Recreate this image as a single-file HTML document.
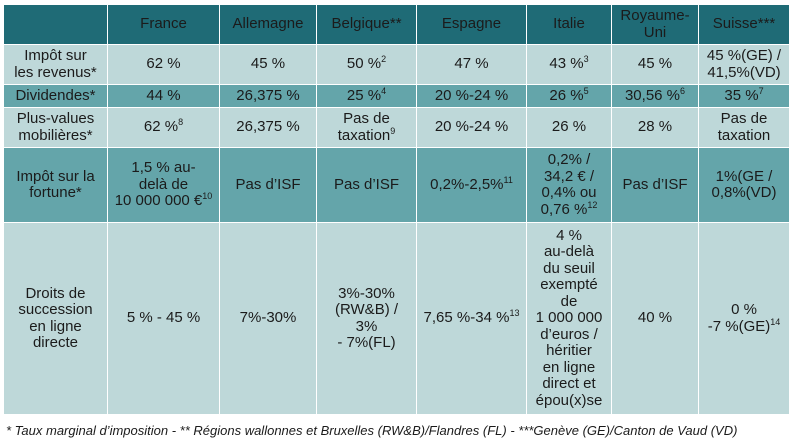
<!DOCTYPE html>
<html><head><meta charset="utf-8"><style>
body{margin:0;width:793px;height:444px;background:#fff;position:relative;overflow:hidden;font-family:"Liberation Sans",sans-serif;color:#1b1b1b}
.c{position:absolute;display:flex;align-items:center;justify-content:center;text-align:center;font-size:15px;line-height:16.5px;box-sizing:border-box;color:#1b1b1b}
.c span{display:block}
.h{background:#1f6b76}
.l{background:#bed8d9}
.m{background:#64a5aa}
sup{font-size:9px;vertical-align:6px;line-height:0}
#foot{position:absolute;left:6px;top:423px;font-size:13px;font-style:italic;color:#1b1b1b;white-space:nowrap}
</style></head><body>
<div id="tbl"></div>
<div id="foot">* Taux marginal d’imposition - ** Régions wallonnes et Bruxelles (RW&amp;B)/Flandres (FL) - ***Genève (GE)/Canton de Vaud (VD)</div>
<script>
const xs=[4,107,219,316,416,526,611,698,789];
const ys=[5,44,84,107,147,222,414];
const cls=['h','l','m','l','m','l'];
const rows=[
['','France','Allemagne','Belgique**','Espagne','Italie','Royaume-<br>Uni','Suisse***'],
['Impôt sur<br>les revenus*','62 %','45 %','50 %<sup>2</sup>','47 %','43 %<sup>3</sup>','45 %','45 %(GE) /<br>41,5%(VD)'],
['Dividendes*','44 %','26,375 %','25 %<sup>4</sup>','20 %-24 %','26 %<sup>5</sup>','30,56 %<sup>6</sup>','35 %<sup>7</sup>'],
['Plus-values<br>mobilières*','62 %<sup>8</sup>','26,375 %','Pas de<br>taxation<sup>9</sup>','20 %-24 %','26 %','28 %','Pas de<br>taxation'],
['Impôt sur la<br>fortune*','1,5 % au-<br>delà de<br>10 000 000 €<sup>10</sup>','Pas d’ISF','Pas d’ISF','0,2%-2,5%<sup>11</sup>','0,2% /<br>34,2 € /<br>0,4% ou<br>0,76 %<sup>12</sup>','Pas d’ISF','1%(GE /<br>0,8%(VD)'],
['Droits de<br>succession<br>en ligne<br>directe','5 % - 45 %','7%-30%','3%-30%<br>(RW&amp;B) /<br>3%<br>- 7%(FL)','7,65 %-34 %<sup>13</sup>','4 %<br>au-delà<br>du seuil<br>exempté<br>de<br>1 000 000<br>d’euros /<br>héritier<br>en ligne<br>direct et<br>épou(x)se','40 %','0 %<br>-7 %(GE)<sup>14</sup>']
];
const names=['header-row','income-tax-row','dividends-row','capital-gains-row','wealth-tax-row','inheritance-row'];
const t=document.getElementById('tbl');
rows.forEach((r,i)=>{r.forEach((txt,j)=>{
 const d=document.createElement('div');
 d.className='c '+cls[i];
 
 
 d.style.left=(xs[j]+(j?1:0))+'px';d.style.top=(ys[i]+(i?1:0))+'px';
 d.style.width=(xs[j+1]-xs[j]-(j?1:0))+'px';d.style.height=(ys[i+1]-ys[i]-(i?1:0))+'px';
 d.innerHTML='<span>'+txt+'</span>';t.appendChild(d);
});});
</script>
</body></html>
